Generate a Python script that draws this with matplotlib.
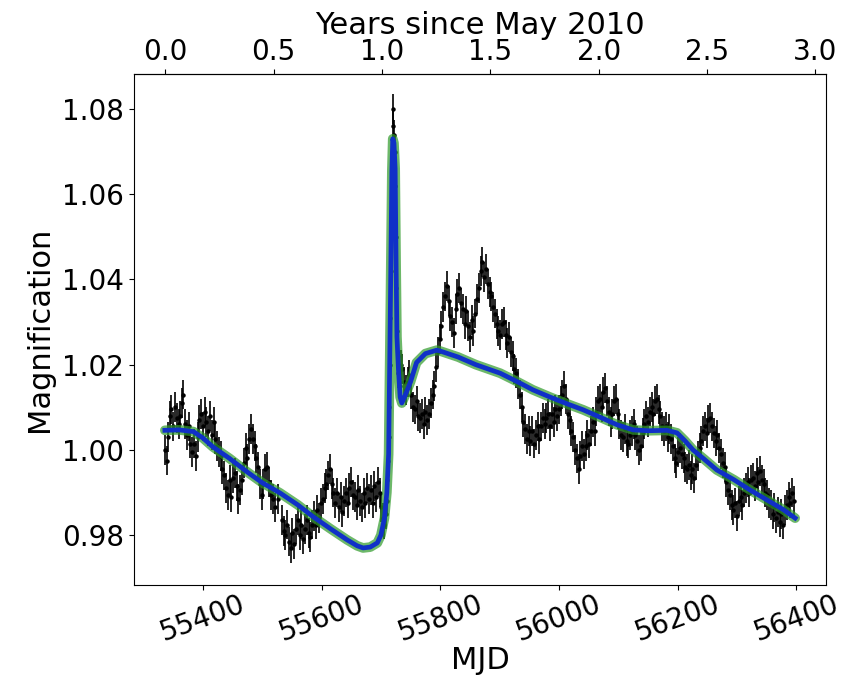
import numpy as np
import matplotlib.pyplot as plt

mjd = [
    55337, 55339, 55341, 55344, 55347, 55350, 55353, 55356, 55359, 55362, 55365, 55367, 55370, 55373, 55376, 55379, 55382, 55385, 55388, 55391, 55394,
    55397, 55400, 55403, 55406, 55409, 55412, 55415, 55418, 55421, 55424, 55427, 55430, 55433, 55436, 55439, 55442, 55445, 55448, 55451, 55454, 55457, 55460, 55463,
    55466, 55469, 55472, 55475, 55478, 55481, 55484, 55487, 55490, 55493, 55496, 55499, 55502, 55505, 55508, 55511, 55514, 55518, 55522, 55526,
    55533, 55536, 55539, 55542, 55545, 55548, 55551, 55554, 55557, 55560, 55563, 55566, 55569, 55572, 55575, 55578, 55581, 55584, 55587, 55590, 55593, 55596, 55599, 55602, 55605, 55608, 55611, 55614, 55617,
    55620, 55623, 55626, 55629, 55632, 55635, 55638, 55641, 55644, 55647, 55650, 55653, 55656, 55659, 55662, 55665, 55668, 55671, 55674, 55677, 55680, 55683, 55686, 55689, 55692, 55695, 55698, 55701, 55704, 55706, 55708,
    55710, 55711, 55712, 55713, 55714, 55715, 55716, 55717, 55718, 55719, 55720, 55721, 55722, 55723, 55724, 55725, 55726, 55727, 55728, 55729, 55730, 55732, 55734,
    55736, 55739, 55742, 55745, 55748, 55751, 55754, 55757, 55760, 55763, 55766, 55769, 55772, 55775, 55778, 55781, 55784, 55787, 55790, 55793, 55796, 55799,
    55802, 55805, 55808, 55811, 55814, 55817, 55820, 55823, 55826, 55829, 55832, 55835, 55838, 55841, 55844, 55847, 55850, 55853, 55856, 55859, 55862, 55865, 55868, 55871, 55874, 55877, 55880, 55883, 55886, 55889, 55892, 55895, 55898,
    55901, 55904, 55907, 55910, 55913, 55916, 55919, 55922, 55925, 55928, 55931, 55934, 55937, 55940, 55943, 55946, 55949, 55952, 55955, 55958, 55961, 55964, 55967, 55970, 55973, 55976,
    55979, 55982, 55985, 55988, 55991, 55994, 55997, 56000, 56003, 56006, 56009, 56012, 56015, 56018, 56021, 56024, 56027, 56030, 56033, 56036, 56039, 56042, 56045, 56048, 56051, 56054, 56057, 56060, 56063, 56066,
    56069, 56072, 56075, 56078, 56081, 56084, 56087, 56090, 56093, 56096, 56099, 56102, 56105, 56108, 56111, 56114, 56117, 56120, 56123, 56126, 56129, 56132, 56135, 56138, 56141, 56144, 56147, 56150, 56153, 56156, 56159, 56162, 56165, 56168,
    56171, 56174, 56177, 56180, 56183, 56186, 56189, 56192, 56195, 56198, 56201, 56204, 56207, 56210, 56213, 56216, 56219, 56222, 56225, 56228, 56231, 56234, 56237, 56240, 56243, 56246, 56249, 56252, 56255, 56258, 56261, 56264, 56267, 56270, 56273, 56276, 56279,
    56282, 56285, 56288, 56291, 56294, 56297, 56300, 56303, 56306, 56309, 56312, 56315, 56318, 56321, 56324, 56327, 56330, 56333, 56336, 56339, 56342, 56345, 56348, 56351, 56354, 56357, 56360, 56363, 56366, 56369, 56372, 56375, 56378, 56381, 56384, 56387, 56390, 56393, 56396,
]
mag = [
    1.0000, 0.9975, 1.0030, 1.0080, 1.0095, 1.0055, 1.0100, 1.0075, 1.0060, 1.0080, 1.0110, 1.0130, 1.0060, 1.0035, 1.0055, 1.0015, 0.9995, 1.0015, 0.9985, 1.0030, 1.0070,
    1.0085, 1.0055, 1.0090, 1.0065, 1.0045, 1.0080, 1.0035, 1.0065, 1.0025, 1.0010, 0.9995, 0.9985, 0.9955, 0.9940, 0.9910, 0.9895, 0.9930, 0.9890, 0.9935, 0.9945, 0.9915, 0.9885, 0.9905,
    0.9930, 0.9970, 1.0005, 0.9980, 1.0025, 1.0050, 1.0025, 1.0010, 0.9980, 0.9960, 0.9920, 0.9895, 0.9920, 0.9955, 0.9960, 0.9925, 0.9895, 0.9885, 0.9865, 0.9885,
    0.9835, 0.9810, 0.9800, 0.9825, 0.9785, 0.9770, 0.9805, 0.9780, 0.9815, 0.9835, 0.9800, 0.9825, 0.9790, 0.9815, 0.9835, 0.9805, 0.9795, 0.9825, 0.9845, 0.9825, 0.9860, 0.9840, 0.9875, 0.9885, 0.9910, 0.9920, 0.9940, 0.9955, 0.9920,
    0.9900, 0.9875, 0.9900, 0.9865, 0.9890, 0.9855, 0.9880, 0.9900, 0.9875, 0.9910, 0.9925, 0.9895, 0.9890, 0.9870, 0.9905, 0.9880, 0.9865, 0.9900, 0.9875, 0.9910, 0.9885, 0.9905, 0.9875, 0.9915, 0.9890, 0.9925, 0.9900, 0.9865, 0.9840, 0.9825, 0.9850,
    0.9880, 0.9930, 0.9975, 1.0030, 1.0100, 1.0200, 1.0310, 1.0420, 1.0560, 1.0650, 1.0760, 1.0800, 1.0740, 1.0700, 1.0620, 1.0500, 1.0380, 1.0280, 1.0220, 1.0180, 1.0160, 1.0150, 1.0200,
    1.0190, 1.0160, 1.0140, 1.0160, 1.0175, 1.0130, 1.0100, 1.0095, 1.0115, 1.0080, 1.0075, 1.0085, 1.0060, 1.0090, 1.0070, 1.0085, 1.0110, 1.0130, 1.0150, 1.0195, 1.0230, 1.0260,
    1.0290, 1.0335, 1.0360, 1.0385, 1.0350, 1.0315, 1.0300, 1.0275, 1.0330, 1.0365, 1.0380, 1.0345, 1.0330, 1.0295, 1.0325, 1.0290, 1.0265, 1.0305, 1.0280, 1.0320, 1.0355, 1.0380, 1.0420, 1.0440, 1.0405, 1.0425, 1.0390, 1.0370, 1.0360, 1.0335, 1.0320, 1.0295, 1.0280,
    1.0270, 1.0295, 1.0300, 1.0270, 1.0250, 1.0265, 1.0230, 1.0220, 1.0190, 1.0180, 1.0155, 1.0130, 1.0100, 1.0065, 1.0050, 1.0025, 1.0045, 1.0020, 1.0045, 1.0015, 1.0035, 1.0055, 1.0025, 1.0055, 1.0075, 1.0060,
    1.0075, 1.0085, 1.0055, 1.0085, 1.0065, 1.0095, 1.0080, 1.0095, 1.0115, 1.0130, 1.0150, 1.0120, 1.0085, 1.0070, 1.0045, 1.0030, 1.0000, 0.9980, 0.9955, 0.9985, 1.0010, 0.9990, 1.0010, 1.0035, 1.0015, 1.0045, 1.0065, 1.0045, 1.0090, 1.0115,
    1.0120, 1.0100, 1.0135, 1.0145, 1.0115, 1.0090, 1.0065, 1.0085, 1.0115, 1.0120, 1.0085, 1.0060, 1.0035, 1.0030, 1.0050, 1.0020, 1.0015, 1.0035, 1.0045, 1.0060, 1.0035, 1.0020, 1.0000, 1.0010, 1.0040, 1.0060, 1.0080, 1.0065, 1.0090, 1.0100, 1.0085, 1.0115, 1.0120, 1.0095,
    1.0080, 1.0055, 1.0045, 1.0055, 1.0030, 1.0050, 1.0025, 1.0010, 0.9980, 0.9970, 0.9995, 1.0005, 0.9990, 0.9980, 0.9960, 0.9955, 0.9965, 0.9940, 0.9955, 0.9935, 0.9965, 0.9985, 1.0005, 1.0020, 1.0045, 1.0055, 1.0040, 1.0070, 1.0075, 1.0055, 1.0040, 1.0020, 1.0035, 1.0005, 0.9990, 0.9970, 0.9960,
    0.9925, 0.9905, 0.9895, 0.9870, 0.9860, 0.9875, 0.9845, 0.9880, 0.9890, 0.9870, 0.9900, 0.9910, 0.9925, 0.9900, 0.9930, 0.9935, 0.9915, 0.9945, 0.9925, 0.9950, 0.9930, 0.9920, 0.9900, 0.9895, 0.9875, 0.9870, 0.9850, 0.9865, 0.9840, 0.9855, 0.9830, 0.9850, 0.9825, 0.9860, 0.9870, 0.9890, 0.9875, 0.9900, 0.9880,
]
mag_err = 0.0035

# best-fit model curve
model_mjd = [
    55336, 55360, 55384, 55400, 55417, 55445, 55475, 55500, 55530, 55560, 55586, 55615, 55643, 55660,
    55670, 55682, 55694, 55700, 55706, 55710, 55713, 55716, 55718.5, 55720, 55722, 55724, 55725.7, 55727,
    55729.6, 55732.4, 55735.3, 55740, 55750, 55760, 55775, 55794, 55800, 55830, 55860, 55901, 55930, 55956,
    55985, 56014, 56041, 56069, 56098, 56125, 56150, 56182, 56199, 56212, 56226, 56245, 56266, 56295, 56322,
    56350, 56378, 56398,
]
model_mag = [
    1.0046, 1.0047, 1.0043, 1.0028, 1.0007, 0.9980, 0.9948, 0.9923, 0.9899, 0.9871, 0.9843, 0.9815, 0.9789, 0.9775,
    0.9770, 0.9772, 0.9782, 0.9800, 0.9840, 0.9900, 0.9990, 1.0340, 1.0655, 1.0730, 1.0720, 1.0660, 1.0420, 1.0265,
    1.0188, 1.0124, 1.0110, 1.0125, 1.0160, 1.0205, 1.0226, 1.0234, 1.0232, 1.0218, 1.0200, 1.0180, 1.0160, 1.0141,
    1.0124, 1.0108, 1.0094, 1.0077, 1.0059, 1.0047, 1.0045, 1.0046, 1.0040, 1.0022, 1.0000, 0.9978, 0.9953, 0.9930, 0.9906,
    0.9883, 0.9860, 0.9840,
]

T0 = 55336.5  # MJD of "May 2010" origin used on the top axis

assert len(mjd) == len(mag)


def mjd_to_years(x):
    return (np.asarray(x) - T0) / 365.25


def years_to_mjd(y):
    return np.asarray(y) * 365.25 + T0


fig = plt.figure(figsize=(8.51, 6.86), dpi=100)
ax = fig.add_axes([0.1575, 0.1472, 0.8131, 0.7449])

ax.errorbar(mjd, mag, yerr=mag_err, fmt="o", color="black", ms=2.2,
            elinewidth=1.2, capsize=0, zorder=2)
ax.plot(model_mjd, model_mag, color="#2f9a2a", lw=7.0, alpha=0.7,
        solid_capstyle="round", zorder=3)
ax.plot(model_mjd, model_mag, color="#1030c8", lw=3.4, zorder=4)

ax.set_xlim(55284, 56450)
ax.set_ylim(0.9683, 1.0882)
ax.set_yticks([0.98, 1.00, 1.02, 1.04, 1.06, 1.08])
ax.set_xticks([55400, 55600, 55800, 56000, 56200, 56400])
ax.tick_params(axis="both", labelsize=20)
ax.tick_params(axis="x", labelrotation=20, pad=0)
ax.set_xlabel("MJD", fontsize=22, labelpad=0)
ax.set_ylabel("Magnification", fontsize=22, labelpad=6)

top = ax.secondary_xaxis("top", functions=(mjd_to_years, years_to_mjd))
top.set_xticks([0.0, 0.5, 1.0, 1.5, 2.0, 2.5, 3.0])
top.tick_params(labelsize=20, pad=2)
top.set_xlabel("Years since May 2010", fontsize=22, labelpad=3)

fig.savefig("out.png", dpi=100)
plt.close(fig)
